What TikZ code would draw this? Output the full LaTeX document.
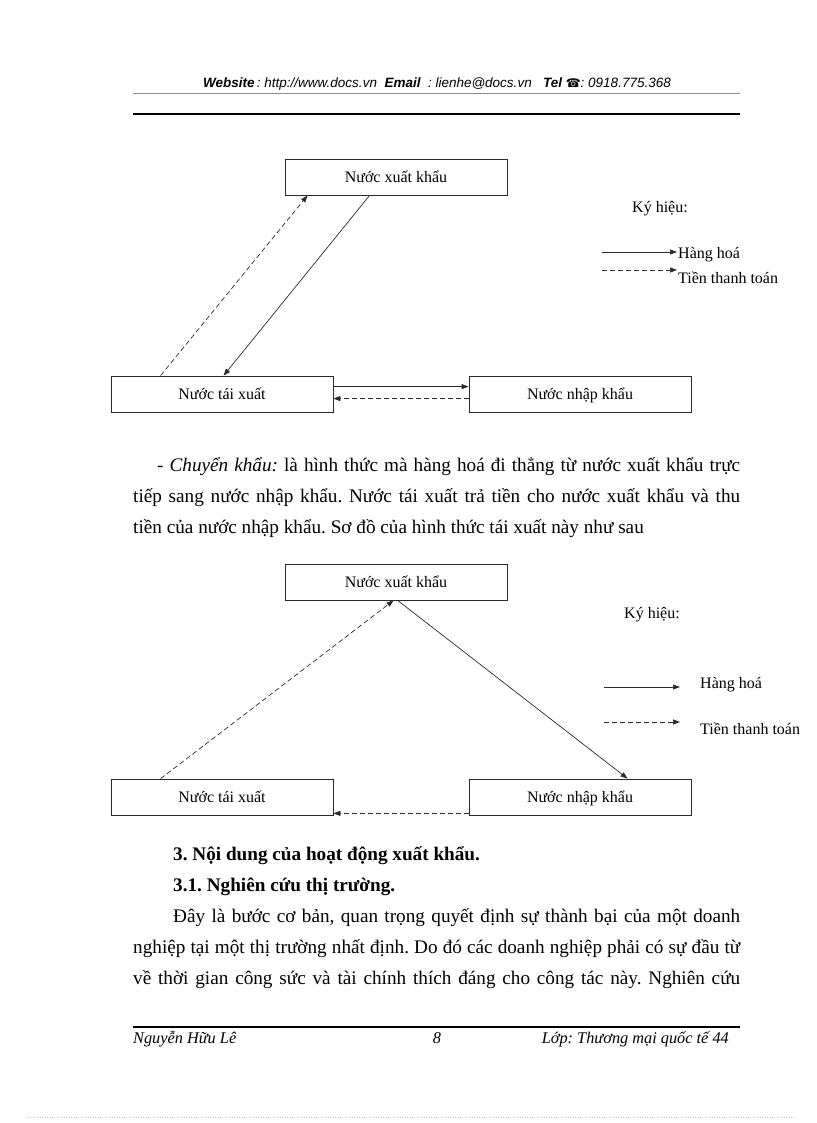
\documentclass[tikz,border=0pt]{standalone}
\usepackage{fontspec}
\setmainfont{Liberation Serif}
\newfontfamily\hdrsans{Liberation Sans}
\newfontfamily\phonefont{DejaVu Sans}
\usetikzlibrary{arrows.meta}
\definecolor{linegray}{HTML}{2A2A2A}
\definecolor{rulegray}{HTML}{8C8C8C}
\frenchspacing
\newcommand{\bodyfont}{\fontsize{19.2pt}{31pt}\selectfont}
\newcommand{\boxfont}{\fontsize{16pt}{18pt}\selectfont}
\newcommand{\hdrfont}{\hdrsans\fontsize{13.5pt}{15pt}\selectfont\itshape}
\newcommand{\footfont}{\fontsize{16.3pt}{18pt}\selectfont\itshape}

\begin{document}
\begin{tikzpicture}[>={Triangle[length=7pt,width=5pt]},x=1pt,y=-1pt,
  countrybox/.style={draw=linegray,line width=0.8pt,minimum width=222pt,
    minimum height=36pt,inner sep=0pt,text height=13pt,text depth=2pt,
    font=\boxfont},
  goods/.style={->,linegray,line width=0.7pt},
  money/.style={->,linegray,line width=0.7pt,dash pattern=on 5pt off 3pt},
  legendtext/.style={anchor=west,inner sep=0pt,font=\boxfont},
  textline/.style={anchor=base west,inner sep=0pt,font=\bodyfont}]

  \useasboundingbox (0,0) rectangle (816,1123);

  % --- page header ---
  \node[anchor=base,font=\hdrfont] (hdr) at (437,88)
        {\textbf{Website}\,: http://www.docs.vn \ \textbf{Email} \ : lienhe@docs.vn \ \ \textbf{Tel} {\phonefont\upshape\fontsize{12pt}{14pt}\selectfont ☎}: 0918.775.368};
  \draw[rulegray,line width=0.5pt] (133,93) -- (740,93);
  \draw[line width=2pt] (133,114) -- (740,114);

  % --- first scheme: boxes ---
  \node[countrybox] (xk1) at (396,177) {Nước xuất khẩu};
  \node[countrybox] (tx1) at (222,394) {Nước tái xuất};
  \node[countrybox] (nk1) at (580,394) {Nước nhập khẩu};

  % --- first scheme: flows ---
  \draw[goods] ([xshift=85pt]xk1.south west) -- ([xshift=113pt]tx1.north west);
  \draw[money] ([xshift=50pt]tx1.north west) -- ([xshift=23pt]xk1.south west);
  \draw[goods] ([yshift=-11pt]tx1.north east) -- ([yshift=-11pt]nk1.north west);
  \draw[money] ([yshift=-23pt]nk1.north west) -- ([yshift=-23pt]tx1.north east);

  % --- first scheme: legend ---
  \node[font=\boxfont] (key1) at (660,209) {Ký hiệu:};
  \coordinate (hh1a) at (602,252);
  \coordinate (hh1b) at (677,252);
  \coordinate (tt1a) at (602,270);
  \coordinate (tt1b) at (677,270);
  \draw[goods] (hh1a) -- (hh1b);
  \draw[money] (tt1a) -- (tt1b);
  \node[legendtext] (hh1) at (678,255) {Hàng hoá};
  \node[legendtext] (tt1) at (678,278) {Tiền thanh toán};

  % --- paragraph ---
  \node[textline] (p1) at (157,471) {\makebox[583pt][s]{- \textit{Chuyển khẩu:} là hình thức mà hàng hoá đi thẳng từ nước xuất khẩu trực}};
  \node[textline] (p2) at (133,502) {\makebox[607pt][s]{tiếp sang nước nhập khẩu. Nước tái xuất trả tiền cho nước xuất khẩu và thu}};
  \node[textline] (p3) at (133,533) {tiền của nước nhập khẩu. Sơ đồ của hình thức tái xuất này như sau};

  % --- second scheme: boxes ---
  \node[countrybox] (xk2) at (396,582) {Nước xuất khẩu};
  \node[countrybox] (tx2) at (222,797) {Nước tái xuất};
  \node[countrybox] (nk2) at (580,797) {Nước nhập khẩu};

  % --- second scheme: flows ---
  \draw[money] ([xshift=50pt]tx2.north west) -- ([xshift=109pt]xk2.south west);
  \draw[goods] ([xshift=113pt]xk2.south west) -- ([xshift=159pt]nk2.north west);
  \draw[money] ([yshift=2pt]nk2.south west) -- ([yshift=2pt]tx2.south east);

  % --- second scheme: legend ---
  \node[font=\boxfont] (key2) at (652,615) {Ký hiệu:};
  \coordinate (hh2a) at (604,687);
  \coordinate (hh2b) at (680,687);
  \coordinate (tt2a) at (604,722);
  \coordinate (tt2b) at (680,722);
  \draw[goods] (hh2a) -- (hh2b);
  \draw[money] (tt2a) -- (tt2b);
  \node[legendtext] (hh2) at (700,685) {Hàng hoá};
  \node[legendtext] (tt2) at (700,729) {Tiền thanh toán};

  % --- section text ---
  \node[textline,font=\bodyfont\bfseries] (h3) at (173,860) {3. Nội dung của hoạt động xuất khẩu.};
  \node[textline,font=\bodyfont\bfseries] (h31) at (173,891) {3.1. Nghiên cứu thị trường.};
  \node[textline] (q1) at (173,922) {\makebox[567pt][s]{Đây là bước cơ bản, quan trọng quyết định sự thành bại của một doanh}};
  \node[textline] (q2) at (133,953) {\makebox[607pt][s]{nghiệp tại một thị trường nhất định. Do đó các doanh nghiệp phải có sự đầu từ}};
  \node[textline] (q3) at (133,984) {\makebox[607pt][s]{về thời gian công sức và tài chính thích đáng cho công tác này. Nghiên cứu}};

  % --- page footer ---
  \draw[line width=2pt] (133,1027) -- (740,1027);
  \node[anchor=base west,inner sep=0pt,font=\footfont] (fl) at (133,1043) {Nguyễn Hữu Lê};
  \node[anchor=base,inner sep=0pt,font=\footfont] (fc) at (437,1043) {8};
  \node[anchor=base east,inner sep=0pt,font=\footfont] (fr) at (729,1043) {Lớp: Thương mại quốc tế 44};
  \draw[rulegray!50,line width=0.4pt,dotted] (28,1117) -- (795,1117);

\end{tikzpicture}
\end{document}
